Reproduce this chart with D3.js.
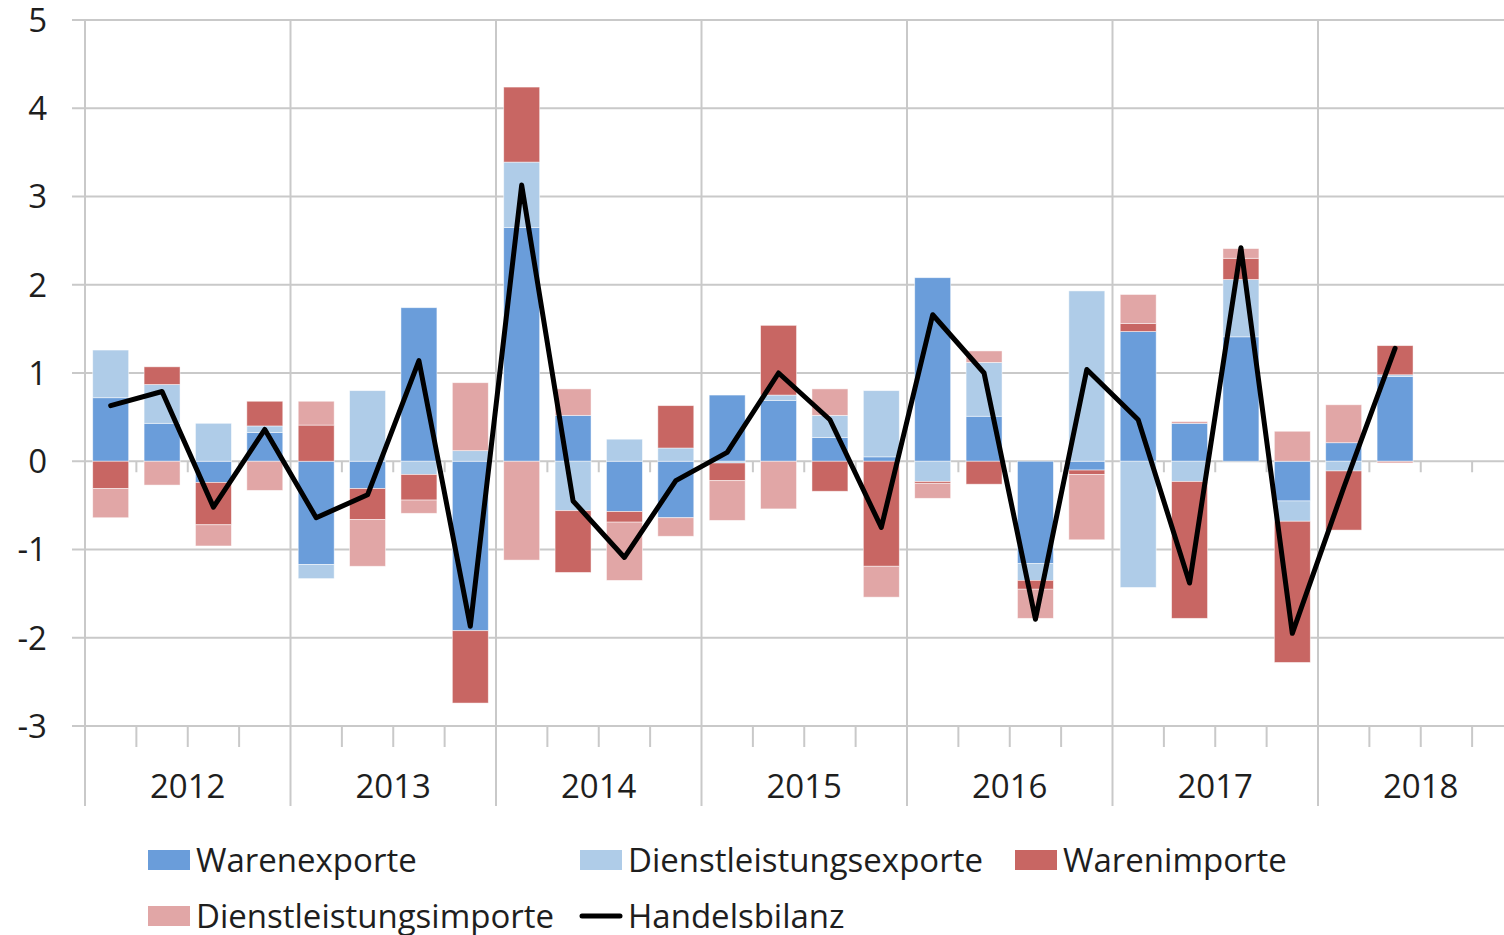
<!DOCTYPE html>
<html lang="de">
<head>
<meta charset="utf-8">
<title>Handelsbilanz Beiträge</title>
<script src="https://d3js.org/d3.v7.min.js"></script>
<style>
  body { margin: 0; background: #fff; }
  svg text { font-family: "Open Sans", sans-serif; fill: #1e1e1e; }
</style>
</head>
<body>
<div id="chart"></div>
<script>
// quarters with data, 2012Q1 - 2018Q2
var quarters = ["2012Q1","2012Q2","2012Q3","2012Q4","2013Q1","2013Q2","2013Q3","2013Q4",
                "2014Q1","2014Q2","2014Q3","2014Q4","2015Q1","2015Q2","2015Q3","2015Q4",
                "2016Q1","2016Q2","2016Q3","2016Q4","2017Q1","2017Q2","2017Q3","2017Q4",
                "2018Q1","2018Q2"];
var years = ["2012","2013","2014","2015","2016","2017","2018"];

var warenexporte = [0.72, 0.43, -0.24, 0.325, -1.17, -0.31, 1.74, -1.92,
                    2.65, 0.52, -0.57, -0.64, 0.75, 0.69, 0.27, 0.05,
                    2.08, 0.51, -1.16, -0.10, 1.47, 0.43, 1.41, -0.45,
                    0.21, 0.96];
var dlexporte = [0.54, 0.44, 0.43, 0.075, -0.16, 0.80, -0.15, 0.12,
                 0.74, -0.56, 0.25, 0.15, -0.02, 0.06, 0.25, 0.75,
                 -0.23, 0.61, -0.19, 1.93, -1.43, -0.23, 0.65, -0.23,
                 -0.11, 0.02];
var warenimporte = [-0.31, 0.20, -0.48, 0.28, 0.41, -0.35, -0.29, -0.82,
                    0.85, -0.70, -0.12, 0.48, -0.20, 0.79, -0.34, -1.19,
                    -0.02, -0.26, -0.10, -0.05, 0.09, -1.55, 0.24, -1.60,
                    -0.67, 0.33];
var dlimporte = [-0.33, -0.27, -0.24, -0.33, 0.27, -0.53, -0.15, 0.77,
                 -1.12, 0.30, -0.66, -0.21, -0.45, -0.54, 0.30, -0.35,
                 -0.17, 0.13, -0.33, -0.74, 0.33, 0.02, 0.11, 0.34,
                 0.43, -0.02];
var handelsbilanz = [0.63, 0.79, -0.52, 0.36, -0.64, -0.38, 1.14, -1.87,
                     3.13, -0.45, -1.09, -0.22, 0.10, 1.00, 0.47, -0.75,
                     1.66, 1.00, -1.79, 1.04, 0.47, -1.38, 2.42, -1.95,
                     -0.30, 1.28];
var yTicks = [-3, -2, -1, 0, 1, 2, 3, 4, 5];

var seriesNames = ["Warenexporte", "Dienstleistungsexporte", "Warenimporte", "Dienstleistungsimporte"];
var seriesColors = ["#6a9dda", "#afcce8", "#c86663", "#e1a6a6"];
var lineName = "Handelsbilanz";

var width = 1504, height = 935;
var plotLeft = 85, plotRight = 1523.5, plotTop = 20, plotBottom = 726;
var labelBand = 806;
var grid = "#c9c9c9";

// all quarter slots incl. the empty ones of 2018
var slots = [];
years.forEach(function(yr) { for (var q = 1; q <= 4; q++) slots.push(yr + "Q" + q); });

var x = d3.scaleBand().domain(slots).range([plotLeft, plotRight]).paddingInner(0.3).paddingOuter(0.15);
var xEdge = d3.scaleLinear().domain([0, slots.length]).range([plotLeft, plotRight]);
var y = d3.scaleLinear().domain([-3, 5]).range([plotBottom, plotTop]);

var table = quarters.map(function(q, i) {
  return { q: q, Warenexporte: warenexporte[i], Dienstleistungsexporte: dlexporte[i],
           Warenimporte: warenimporte[i], Dienstleistungsimporte: dlimporte[i], bilanz: handelsbilanz[i] };
});
var stack = d3.stack().keys(seriesNames).offset(d3.stackOffsetDiverging);
var stacked = stack(table);

var svg = d3.select("#chart").append("svg")
  .attr("width", width).attr("height", height);

// horizontal gridlines
svg.append("g").selectAll("line").data(yTicks).enter().append("line")
  .attr("x1", plotLeft - 13).attr("x2", width)
  .attr("y1", function(d) { return y(d); }).attr("y2", function(d) { return y(d); })
  .attr("stroke", grid).attr("stroke-width", 2);

// y labels
svg.append("g").selectAll("text").data(yTicks).enter().append("text")
  .attr("x", 47).attr("y", function(d) { return y(d); })
  .attr("dy", "0.36em")
  .attr("text-anchor", "end")
  .style("font-size", "33px")
  .text(function(d) { return d; });

// year boundaries (full height incl. label band)
var yearEdges = d3.range(0, slots.length + 1, 4);
svg.append("g").selectAll("line").data(yearEdges).enter().append("line")
  .attr("x1", function(d) { return xEdge(d); }).attr("x2", function(d) { return xEdge(d); })
  .attr("y1", plotTop).attr("y2", labelBand)
  .attr("stroke", grid).attr("stroke-width", 2);

// quarter ticks at zero line and at the bottom
var qEdges = d3.range(1, slots.length).filter(function(d) { return d % 4 != 0; });
svg.append("g").selectAll("line").data(qEdges).enter().append("line")
  .attr("x1", function(d) { return xEdge(d); }).attr("x2", function(d) { return xEdge(d); })
  .attr("y1", y(0)).attr("y2", y(0) + 11)
  .attr("stroke", grid).attr("stroke-width", 2);
svg.append("g").selectAll("line").data(qEdges).enter().append("line")
  .attr("x1", function(d) { return xEdge(d); }).attr("x2", function(d) { return xEdge(d); })
  .attr("y1", plotBottom).attr("y2", plotBottom + 21)
  .attr("stroke", grid).attr("stroke-width", 2);

// year labels
svg.append("g").selectAll("text").data(years).enter().append("text")
  .attr("x", function(d, i) { return xEdge(i * 4 + 2); })
  .attr("y", 786).attr("dy", "0.36em")
  .attr("text-anchor", "middle")
  .style("font-size", "33px")
  .text(function(d) { return d; });

// stacked bars
svg.append("g").selectAll("g").data(stacked).enter().append("g")
  .attr("fill", function(d, i) { return seriesColors[i]; })
  .selectAll("rect").data(function(d) { return d; }).enter().append("rect")
  .attr("x", function(d) { return x(d.data.q); })
  .attr("width", x.bandwidth())
  .attr("y", function(d) { return y(d[1]); })
  .attr("height", function(d) { return y(d[0]) - y(d[1]); })
  .attr("stroke", "#fff").attr("stroke-opacity", 0.6).attr("stroke-width", 0.8);

// trade balance line
var line = d3.line()
  .x(function(d) { return x(d.q) + x.bandwidth() / 2; })
  .y(function(d) { return y(d.bilanz); });
svg.append("path").datum(table)
  .attr("d", line)
  .attr("fill", "none").attr("stroke", "#000").attr("stroke-width", 5)
  .attr("stroke-linejoin", "round").attr("stroke-linecap", "round");

// legend
var legendItems = seriesNames.map(function(n, i) { return { name: n, color: seriesColors[i], type: "rect" }; });
legendItems.push({ name: lineName, color: "#000", type: "line" });
var colX = [148, 580, 1015];
var rowY = [860, 916];
var lg = svg.append("g").selectAll("g").data(legendItems).enter().append("g")
  .attr("transform", function(d, i) {
    var r = i < 3 ? 0 : 1, c = i < 3 ? i : i - 3;
    return "translate(" + colX[c] + "," + rowY[r] + ")";
  });
lg.filter(function(d) { return d.type == "rect"; }).append("rect")
  .attr("x", 0).attr("y", -10).attr("width", 42).attr("height", 20)
  .attr("fill", function(d) { return d.color; });
lg.filter(function(d) { return d.type == "line"; }).append("line")
  .attr("x1", 2).attr("x2", 40).attr("y1", 0).attr("y2", 0)
  .attr("stroke", "#000").attr("stroke-width", 5).attr("stroke-linecap", "round");
lg.append("text")
  .attr("x", 48).attr("y", 0).attr("dy", "0.36em")
  .style("font-size", "33px")
  .text(function(d) { return d.name; });
</script>
</body>
</html>
